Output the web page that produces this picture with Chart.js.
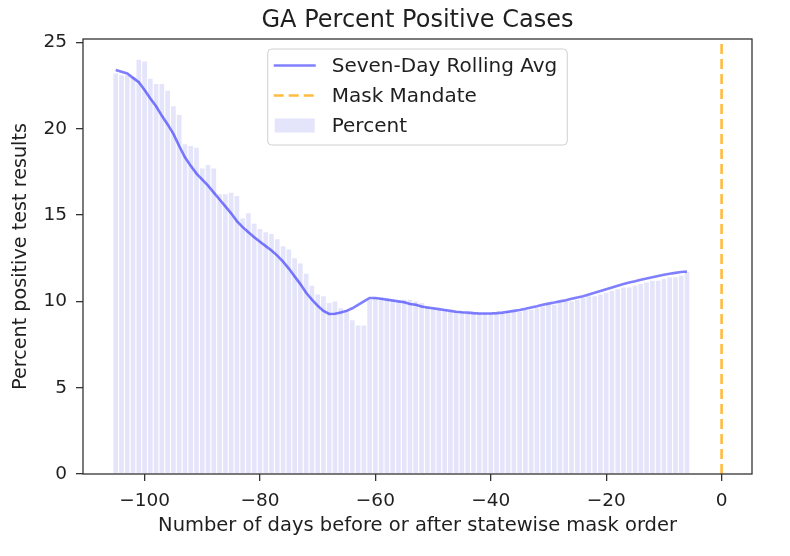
<!DOCTYPE html>
<html>
<head>
<meta charset="utf-8">
<title>GA Percent Positive Cases</title>
<script src="https://cdn.jsdelivr.net/npm/chart.js@4.4.1/dist/chart.umd.min.js"></script>
<style>
  html, body { margin: 0; padding: 0; background: #fff; }
  #wrap { width: 790px; height: 556px; }
</style>
</head>
<body>
<div id="wrap"><canvas id="gaChart" width="790" height="556"></canvas></div>
<script>
// days relative to the statewide mask order
const days = [
  -105, -104, -103, -102, -101, -100, -99, -98, -97, -96,
  -95, -94, -93, -92, -91, -90, -89, -88, -87, -86,
  -85, -84, -83, -82, -81, -80, -79, -78, -77, -76,
  -75, -74, -73, -72, -71, -70, -69, -68, -67, -66,
  -65, -64, -63, -62, -61, -60, -59, -58, -57, -56,
  -55, -54, -53, -52, -51, -50, -49, -48, -47, -46,
  -45, -44, -43, -42, -41, -40, -39, -38, -37, -36,
  -35, -34, -33, -32, -31, -30, -29, -28, -27, -26,
  -25, -24, -23, -22, -21, -20, -19, -18, -17, -16,
  -15, -14, -13, -12, -11, -10, -9, -8, -7, -6
];

// daily percent positive (bars)
const percentValues = [
  23.2, 23.1, 23.1, 23.0, 24.0, 23.9, 22.9, 22.6, 22.6, 22.2,
  21.3, 20.8, 19.1, 19.0, 18.9, 17.7, 17.9, 17.7, 16.2, 16.2,
  16.3, 16.1, 14.8, 15.1, 14.5, 14.2, 14.0, 13.9, 13.6, 13.2,
  13.0, 12.5, 12.2, 11.6, 10.9, 10.4, 10.3, 9.9, 10.0, 9.6,
  9.5, 8.9, 8.6, 8.6, 10.1, 10.2, 10.2, 10.1, 10.1, 10.0,
  10.1, 10.1, 10.0, 9.9, 9.7, 9.6, 9.5, 9.5, 9.4, 9.4,
  9.4, 9.3, 9.3, 9.3, 9.3, 9.3, 9.3, 9.3, 9.4, 9.4,
  9.4, 9.5, 9.5, 9.6, 9.7, 9.8, 9.8, 9.9, 10.0, 10.0,
  10.1, 10.2, 10.3, 10.3, 10.4, 10.5, 10.6, 10.7, 10.8, 10.8,
  10.9, 11.0, 11.1, 11.2, 11.2, 11.3, 11.4, 11.4, 11.5, 11.7
];

// seven-day rolling average (line)
const rollingAvg = [
  23.4, 23.3, 23.2, 22.95, 22.7, 22.25, 21.75, 21.3, 20.75, 20.25,
  19.7, 19.0, 18.35, 17.85, 17.4, 17.05, 16.7, 16.3, 15.9, 15.5,
  15.1, 14.65, 14.3, 14.0, 13.72, 13.45, 13.2, 12.95, 12.65, 12.3,
  11.9, 11.45, 11.0, 10.5, 10.1, 9.75, 9.45, 9.27, 9.28, 9.35,
  9.45, 9.6, 9.8, 10.0, 10.2, 10.2, 10.15, 10.1, 10.05, 10.0,
  9.95, 9.85, 9.8, 9.7, 9.65, 9.6, 9.55, 9.5, 9.45, 9.4,
  9.37, 9.35, 9.32, 9.3, 9.3, 9.3, 9.32, 9.35, 9.4, 9.45,
  9.5, 9.57, 9.65, 9.72, 9.8, 9.87, 9.93, 10.0, 10.07, 10.15,
  10.23, 10.3, 10.4, 10.5, 10.6, 10.7, 10.8, 10.9, 11.0, 11.1,
  11.17, 11.25, 11.33, 11.4, 11.47, 11.54, 11.6, 11.65, 11.7, 11.73
];

const maskDay = 0;
const xTicks = [-100, -80, -60, -40, -20, 0];
const yTicks = [0, 5, 10, 15, 20, 25];
const xRange = [-110.67, 5.27];
const yRange = [0, 25.2];

const textColor = '#1f1f1f';
const axisColor = '#333333';

Chart.defaults.font.family = '"DejaVu Sans", sans-serif';
Chart.defaults.color = textColor;

// matplotlib draws a box round the axes
const axesFrame = {
    id: 'axesFrame',
    afterDatasetsDraw(chart) {
        const a = chart.chartArea;
        const ctx = chart.ctx;
        ctx.save();
        ctx.strokeStyle = axisColor;
        ctx.lineWidth = 1.3;
        ctx.strokeRect(a.left, a.top, a.right - a.left, a.bottom - a.top);
        ctx.restore();
    }
};

// legend box inside the axes, upper centre
const innerLegend = {
    id: 'innerLegend',
    afterDraw(chart) {
        const ctx = chart.ctx;
        const a = chart.chartArea;
        const sets = chart.data.datasets;
        const order = [1, 2, 0]; // line, mask line, bars
        ctx.save();
        ctx.font = '20px "DejaVu Sans"';
        let textW = 0;
        order.forEach(i => { textW = Math.max(textW, ctx.measureText(sets[i].label).width); });
        const padL = 6, handleW = 42, gap = 16, padR = 10, rowH = 30;
        const w = padL + handleW + gap + textW + padR;
        const h = 96;
        const x0 = (a.left + a.right) / 2 - w / 2;
        const y0 = a.top + 10;

        ctx.beginPath();
        ctx.roundRect(x0, y0, w, h, 4);
        ctx.fillStyle = 'rgba(255,255,255,0.85)';
        ctx.fill();
        ctx.strokeStyle = '#d0d0d0';
        ctx.lineWidth = 1;
        ctx.stroke();

        order.forEach((i, row) => {
            const ds = sets[i];
            const cy = y0 + 16.5 + row * rowH;
            const hx = x0 + padL;
            if (ds.type === 'bar') {
                ctx.fillStyle = ds.backgroundColor;
                ctx.fillRect(hx + 1, cy - 7, handleW - 2, 14);
            } else {
                ctx.beginPath();
                ctx.setLineDash(ds.borderDash || []);
                ctx.strokeStyle = ds.borderColor;
                ctx.lineWidth = ds.borderWidth;
                ctx.moveTo(hx, cy);
                ctx.lineTo(hx + handleW, cy);
                ctx.stroke();
                ctx.setLineDash([]);
            }
            ctx.fillStyle = textColor;
            ctx.textBaseline = 'middle';
            ctx.textAlign = 'left';
            ctx.fillText(ds.label, hx + handleW + gap, cy + 1);
        });
        ctx.restore();
    }
};

document.addEventListener("DOMContentLoaded", function () {
    var ctx = document.getElementById('gaChart').getContext('2d');

    new Chart(ctx, {
        type: 'bar',
        data: {
            datasets: [{
                type: 'bar',
                label: 'Percent',
                data: days.map((d, i) => ({ x: d, y: percentValues[i] })),
                backgroundColor: 'rgb(228, 228, 251)',
                borderWidth: 0,
                barPercentage: 0.8,
                categoryPercentage: 1.0,
                order: 3
            }, {
                type: 'line',
                label: 'Seven-Day Rolling Avg',
                data: days.map((d, i) => ({ x: d, y: rollingAvg[i] })),
                borderColor: 'rgba(0, 0, 255, 0.5)',
                borderWidth: 2.6,
                pointRadius: 0,
                tension: 0,
                fill: false,
                order: 1
            }, {
                type: 'line',
                label: 'Mask Mandate',
                data: [{ x: maskDay, y: yRange[0] }, { x: maskDay, y: yRange[1] }],
                borderColor: 'rgba(255, 165, 0, 0.75)',
                borderWidth: 2.6,
                borderDash: [10, 5],
                pointRadius: 0,
                fill: false,
                order: 2
            }]
        },
        options: {
            responsive: false,
            animation: false,
            layout: { padding: { left: 0, right: 38, top: 0, bottom: 0 } },
            plugins: {
                legend: { display: false },
                tooltip: { enabled: false },
                title: {
                    display: true,
                    fullSize: false,
                    text: 'GA Percent Positive Cases',
                    color: textColor,
                    font: { size: 24, weight: 'normal' },
                    padding: { top: 6, bottom: 4.2 }
                }
            },
            scales: {
                x: {
                    type: 'linear',
                    min: xRange[0],
                    max: xRange[1],
                    offset: false,
                    afterBuildTicks: s => { s.ticks = xTicks.map(v => ({ value: v })); },
                    afterFit: s => { s.height = 82; },
                    grid: { offset: false, drawOnChartArea: false, drawTicks: true, tickLength: 7, color: axisColor, lineWidth: 1.3 },
                    border: { display: false },
                    ticks: {
                        autoSkip: false,
                        maxRotation: 0,
                        padding: 9,
                        color: textColor,
                        font: { size: 18.5 },
                        callback: v => v < 0 ? '\u2212' + Math.abs(v) : String(v)
                    },
                    title: {
                        display: true,
                        text: 'Number of days before or after statewise mask order',
                        color: textColor,
                        font: { size: 19.5 },
                        padding: { top: 18, bottom: 18 }
                    }
                },
                y: {
                    type: 'linear',
                    min: yRange[0],
                    max: yRange[1],
                    afterBuildTicks: s => { s.ticks = yTicks.map(v => ({ value: v })); },
                    afterFit: s => { s.width = 83; },
                    grid: { drawOnChartArea: false, drawTicks: true, tickLength: 7, color: axisColor, lineWidth: 1.3 },
                    border: { display: false },
                    ticks: {
                        padding: 9,
                        color: textColor,
                        font: { size: 18.5 }
                    },
                    title: {
                        display: true,
                        text: 'Percent positive test results',
                        color: textColor,
                        font: { size: 19.2 },
                        padding: { top: 9, bottom: 0 }
                    }
                }
            }
        },
        plugins: [axesFrame, innerLegend]
    });
});
</script>
</body>
</html>
